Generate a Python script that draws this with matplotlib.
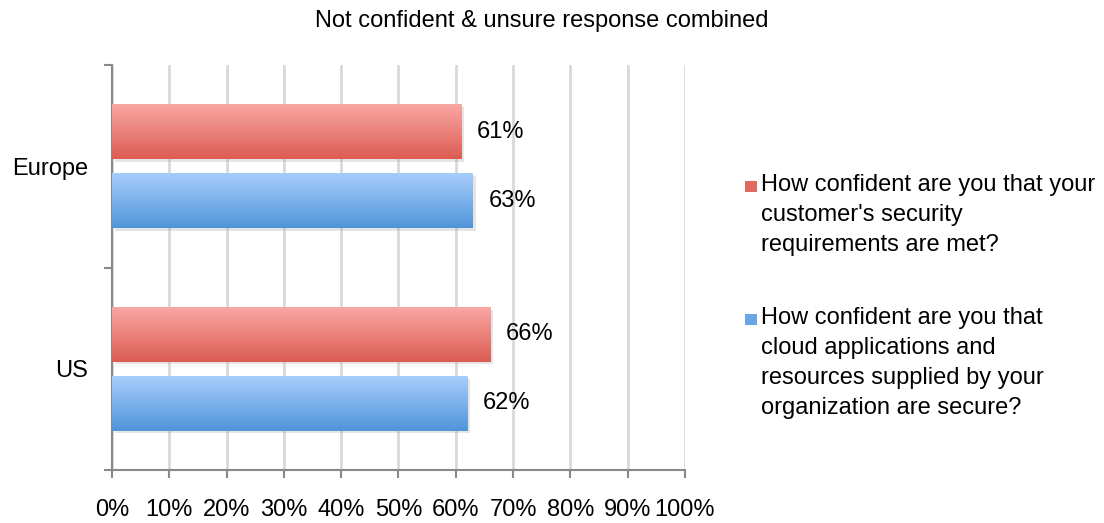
import numpy as np
import matplotlib
matplotlib.use('Agg')
import matplotlib.pyplot as plt
import matplotlib.patheffects as pe
from matplotlib.colors import LinearSegmentedColormap
from matplotlib.patches import Rectangle

plt.rcParams['font.family'] = ['Liberation Sans', 'DejaVu Sans']

# data
regions = ['US', 'Europe']
customer_secure = [66, 61]   # red series
cloud_secure = [62, 63]      # blue series
series_labels = ["How confident are you that your\ncustomer's security\nrequirements are met?",
                 "How confident are you that\ncloud applications and\nresources supplied by your\norganization are secure?"]
subtitle = 'Not confident & unsure response combined'
xticks = list(range(0, 101, 10))

FS = 17
red_grad = LinearSegmentedColormap.from_list('r', ['#DC5C52', '#F9A7A4'])
blue_grad = LinearSegmentedColormap.from_list('b', ['#4F95DA', '#A8CDFC'])

fig = plt.figure(figsize=(11.04, 5.23), dpi=100)
ax = fig.add_axes([0.1014, 0.1013, 0.519, 0.7744])

y = np.arange(len(regions))
h = 0.27
off = 0.17
grad = np.linspace(0, 1, 256).reshape(-1, 1)

def grad_bars(vals, ypos, cmap, base):
    bars = ax.barh(ypos, vals, height=h, color=base, zorder=3,
                   path_effects=[pe.SimplePatchShadow(offset=(2, -2), shadow_rgbFace='#999999', alpha=0.25),
                                 pe.Normal()])
    for b in bars:
        x0, y0 = b.get_x(), b.get_y()
        im = ax.imshow(grad, cmap=cmap, origin='lower', aspect='auto',
                       extent=(x0, x0 + b.get_width(), y0, y0 + b.get_height()), zorder=4)
        im.set_clip_path(b)
    for v, yy in zip(vals, ypos):
        ax.text(v + 2.7, yy, '%d%%' % v, va='center', ha='left', fontsize=FS, zorder=5)
    return bars

grad_bars(customer_secure, y + off, red_grad, '#E8807A')
grad_bars(cloud_secure, y - off, blue_grad, '#7AB0E8')

ax.set_xlim(0, 100)
ax.set_ylim(-0.5, len(regions) - 0.5)
ax.set_aspect('auto')

ax.set_xticks(xticks)
ax.set_xticklabels(['%d%%' % t for t in xticks], fontsize=FS)
ax.set_yticks(y)
ax.set_yticklabels(regions, fontsize=FS)
ax.set_yticks(np.arange(-0.5, len(regions), 1.0), minor=True)
ax.tick_params(axis='y', which='major', length=0, pad=17)
ax.tick_params(axis='y', which='minor', length=6, width=1.5, color='#898989')
ax.tick_params(axis='x', length=6, width=1.5, color='#898989', pad=15)

ax.grid(axis='x', color='#D9D9D9', linewidth=2, zorder=0)
ax.set_axisbelow(True)
for s in ['top', 'right']:
    ax.spines[s].set_visible(False)
for s in ['left', 'bottom']:
    ax.spines[s].set_color('#898989')
    ax.spines[s].set_linewidth(1.5)

fig.text(0.491, 0.960, subtitle, ha='center', va='center', fontsize=FS)

# legend drawn by hand so the swatch sits on the first line
leg_y = [0.643, 0.389]
for lab, col, ly in zip(series_labels, ['#E06A62', '#6AA6E6'], leg_y):
    fig.patches.append(Rectangle((0.675, ly - 0.010), 0.011, 0.021, transform=fig.transFigure,
                                 facecolor=col, edgecolor='none'))
    fig.text(0.689, ly + 0.024, lab, ha='left', va='top', fontsize=FS, linespacing=1.48)

fig.savefig('out.png', dpi=100)
